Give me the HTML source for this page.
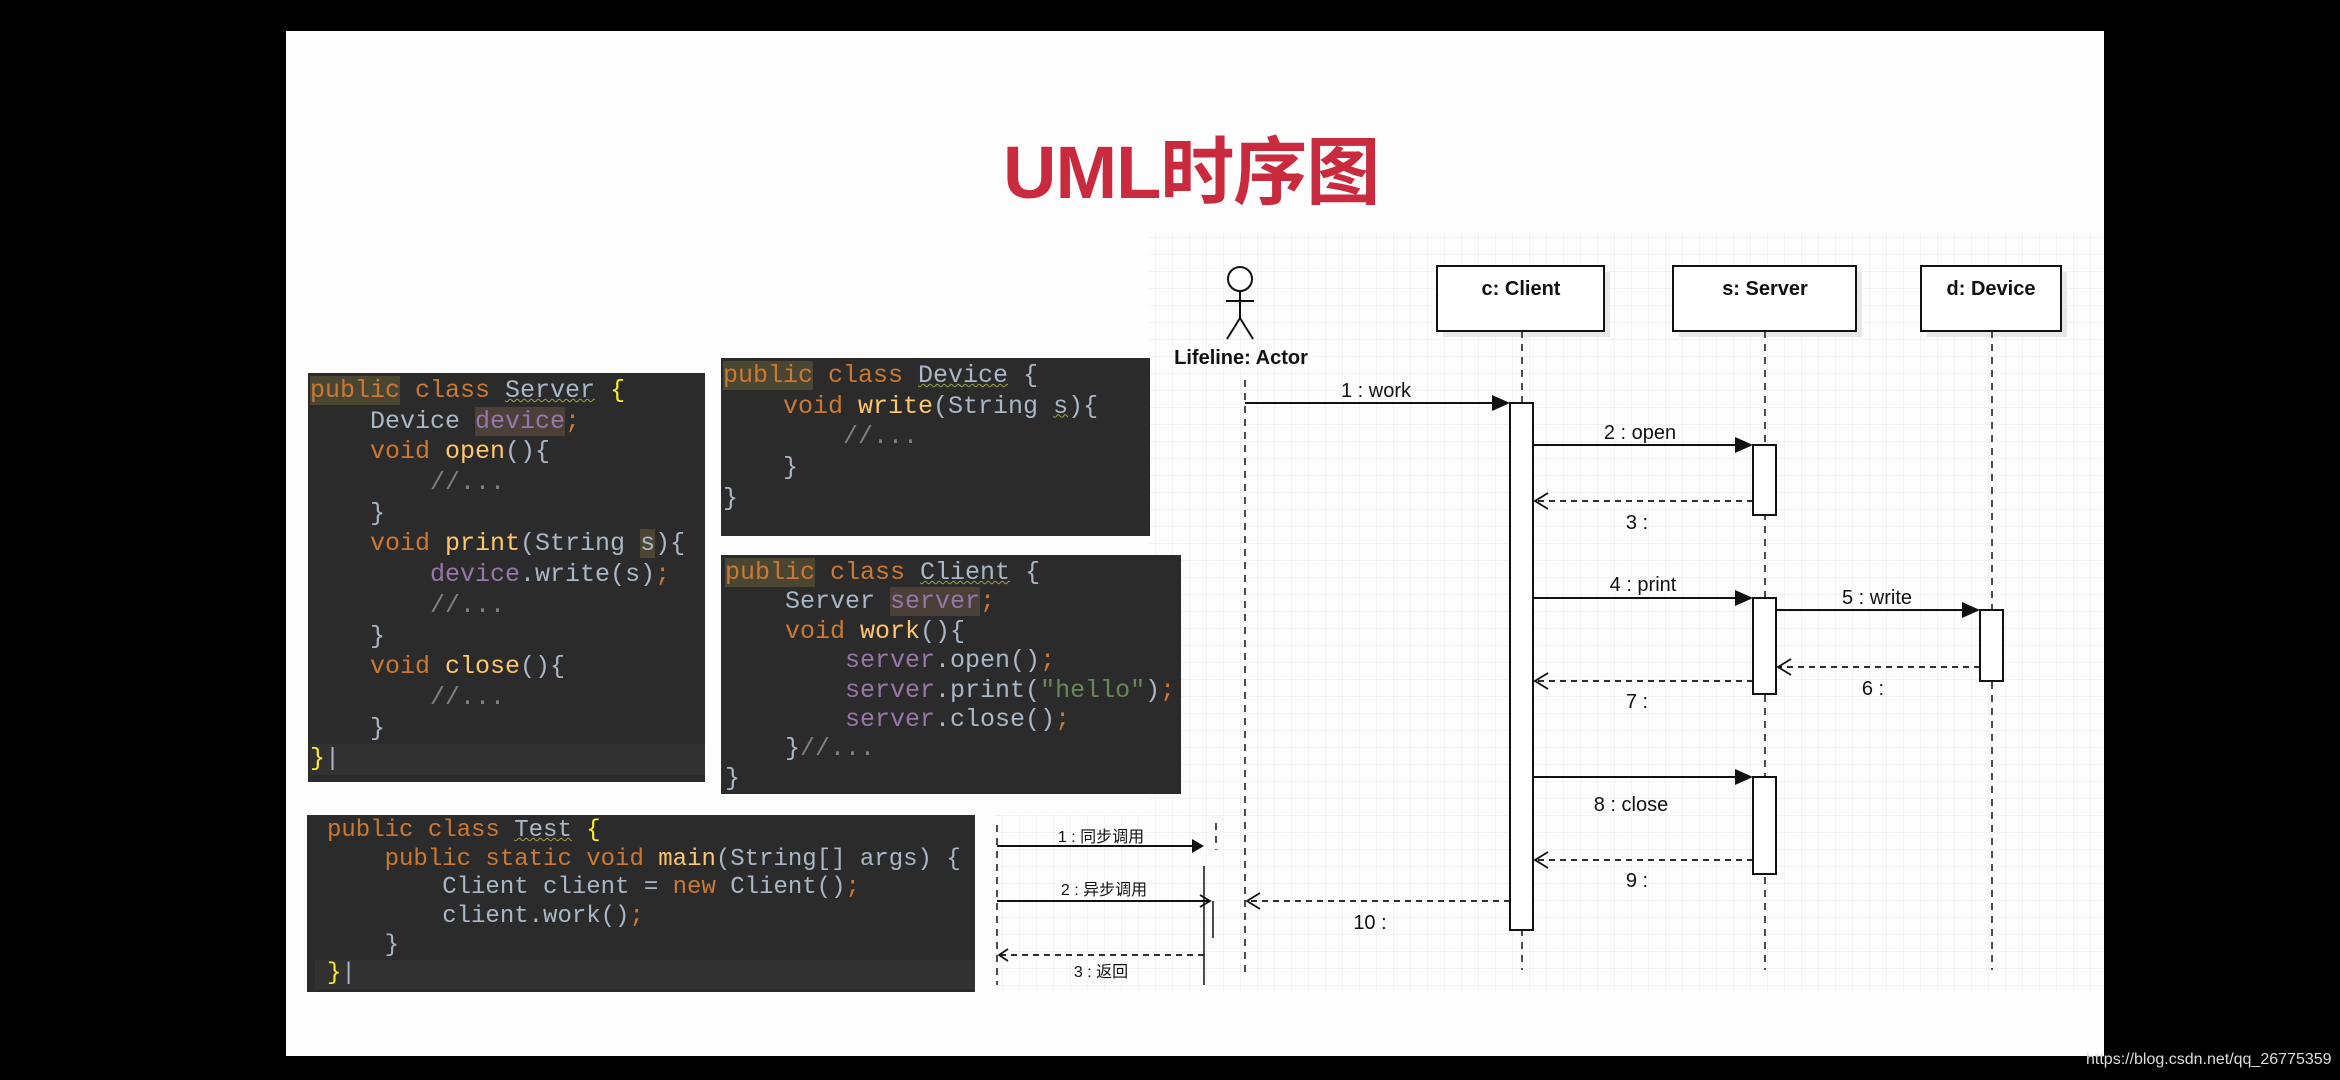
<!DOCTYPE html>
<html><head><meta charset="utf-8">
<style>
html,body{margin:0;padding:0;background:#000;}
body{width:2340px;height:1080px;position:relative;overflow:hidden;}
#slide{position:absolute;left:286px;top:31px;width:1818px;height:1025px;background:#fdfdfd;}
.code{position:absolute;background:#2b2b2b;box-sizing:border-box;margin:0;overflow:hidden;
 font-family:"Liberation Mono","DejaVu Sans Mono",monospace;font-size:25px;color:#a9b7c6;white-space:normal;}
.code div{height:30.7px;line-height:30.7px;white-space:pre;}
.cl div{height:29.4px;line-height:29.4px;}
.ts div{height:28.7px;line-height:28.7px;}
.k{color:#cc7832}.m{color:#ffc66d}.f{color:#9876aa}.c{color:#808080}.s{color:#6a8759}.y{color:#ffef28}
.hl{background:#4a4632}.hf{background:#4a4038}
.u{text-decoration:underline wavy #a0a040;text-decoration-thickness:1px;}
#title{position:absolute;left:1003px;top:128px;font-family:"Liberation Sans","Noto Sans CJK SC",sans-serif;font-weight:bold;font-size:74px;color:#c92a3e;line-height:90px;letter-spacing:-1px;}
#wm{position:absolute;left:2086px;top:1051px;font-family:"Liberation Sans",sans-serif;font-size:16px;color:#ddd;white-space:nowrap;}
</style></head><body>
<div id="slide"></div>
<div id="title">UML时序图</div>

<svg style="position:absolute;left:0;top:0" width="2340" height="1080" xmlns="http://www.w3.org/2000/svg">
<defs>
<pattern id="g" width="17" height="17" patternUnits="userSpaceOnUse">
<path d="M17 0V17H0" fill="none" stroke="#ececec" stroke-width="1"/></pattern>
</defs>
<rect x="1149" y="231" width="955" height="760" fill="url(#g)"/>
<rect x="995" y="815" width="225" height="175" fill="url(#g)"/>
<g font-family="Liberation Sans, sans-serif" fill="#111">
<circle cx="1240" cy="279" r="12" fill="#fff" stroke="#111" stroke-width="2"/>
<path d="M1240 291V318M1226 301H1254M1240 318L1227 339M1240 318L1253 339" stroke="#111" stroke-width="2" fill="none"/>
<text x="1241" y="364" font-size="20" font-weight="bold" text-anchor="middle">Lifeline: Actor</text>
<rect x="1443" y="272" width="167" height="65" fill="#e8e8e8"/>
<rect x="1679" y="272" width="183" height="65" fill="#e8e8e8"/>
<rect x="1927" y="272" width="140" height="65" fill="#e8e8e8"/>
<rect x="1437" y="266" width="167" height="65" fill="#fff" stroke="#111" stroke-width="2"/>
<rect x="1673" y="266" width="183" height="65" fill="#fff" stroke="#111" stroke-width="2"/>
<rect x="1921" y="266" width="140" height="65" fill="#fff" stroke="#111" stroke-width="2"/>
<text x="1521" y="295" font-size="20" font-weight="bold" text-anchor="middle">c: Client</text>
<text x="1765" y="295" font-size="20" font-weight="bold" text-anchor="middle">s: Server</text>
<text x="1991" y="295" font-size="20" font-weight="bold" text-anchor="middle">d: Device</text>
<g stroke="#111" stroke-width="1.5" stroke-dasharray="7,6" fill="none">
<path d="M1245 380V972M1522 331V970M1765 331V970M1992 331V970"/>
<path d="M997 825V985M1216 823V850"/>
</g>
<g fill="#fff" stroke="#111" stroke-width="2">
<rect x="1510" y="403" width="23" height="527"/>
<rect x="1753" y="445" width="23" height="70"/>
<rect x="1753" y="598" width="23" height="96"/>
<rect x="1753" y="777" width="23" height="97"/>
<rect x="1980" y="610" width="23" height="71"/>
</g>
<g stroke="#111" stroke-width="2">
<path d="M1245 403H1495M1533 445H1738M1533 598H1738M1776 610H1965M1533 777H1738M997 846H1194M997 901H1210"/>
</g>
<g fill="#111">
<path d="M1510 403L1492 395V411Z"/><path d="M1753 445L1735 437V453Z"/>
<path d="M1753 598L1735 590V606Z"/><path d="M1980 610L1962 602V618Z"/>
<path d="M1753 777L1735 769V785Z"/><path d="M1204 846L1192 839V853Z"/>
</g>
<g stroke="#111" stroke-width="1.8" stroke-dasharray="6,5" fill="none">
<path d="M1753 501H1535M1980 667H1778M1753 681H1535M1753 860H1535M1510 901H1247M1204 955H999"/>
</g>
<g stroke="#111" stroke-width="1.8" fill="none">
<path d="M1548 493L1535 501L1548 509M1791 659L1778 667L1791 675M1548 673L1535 681L1548 689M1548 852L1535 860L1548 868M1260 893L1247 901L1260 909M1008 949L999 955L1008 961M1200 895L1210 901L1200 907"/>
<path d="M1204 866V985M1213 901V938" stroke-width="1.5"/>
</g>
<g font-size="20" text-anchor="middle">
<text x="1376" y="397">1 : work</text>
<text x="1640" y="439">2 : open</text>
<text x="1637" y="529">3 :</text>
<text x="1643" y="591">4 : print</text>
<text x="1877" y="604">5 : write</text>
<text x="1873" y="695">6 :</text>
<text x="1637" y="708">7 :</text>
<text x="1631" y="811">8 : close</text>
<text x="1637" y="887">9 :</text>
<text x="1370" y="929">10 :</text>
</g>
<g font-size="16" text-anchor="middle" font-family="Liberation Sans, Noto Sans CJK SC, sans-serif">
<text x="1101" y="842">1 : 同步调用</text>
<text x="1104" y="895">2 : 异步调用</text>
<text x="1101" y="977">3 : 返回</text>
</g>
</g>
</svg>

<div class="code" style="left:308px;top:373px;width:397px;height:409px;padding:3px 0 0 2px;"><div><span class="k hl">public</span><span class="k"> class </span><span class="u">Server</span> <span class="y">{</span></div><div>    Device <span class="f hf">device</span><span class="k">;</span></div><div>    <span class="k">void </span><span class="m">open</span>(){</div><div>        <span class="c">//...</span></div><div>    }</div><div>    <span class="k">void </span><span class="m">print</span>(String <span class="hl">s</span>){</div><div>        <span class="f">device</span>.write(s)<span class="k">;</span></div><div>        <span class="c">//...</span></div><div>    }</div><div>    <span class="k">void </span><span class="m">close</span>(){</div><div>        <span class="c">//...</span></div><div>    }</div><div style="background:#323232"><span class="y">}</span>|</div></div>

<div class="code" style="left:721px;top:358px;width:429px;height:178px;padding:3px 0 0 2px;"><div><span class="k hl">public</span><span class="k"> class </span><span class="u">Device</span> {</div><div>    <span class="k">void </span><span class="m">write</span>(String <span class="u">s</span>){</div><div>        <span class="c">//...</span></div><div>    }</div><div>}</div></div>

<div class="code cl" style="left:721px;top:555px;width:460px;height:239px;padding:3px 0 0 4px;"><div><span class="k hl">public</span><span class="k"> class </span><span class="u">Client</span> {</div><div>    Server <span class="f hf">server</span><span class="k">;</span></div><div>    <span class="k">void </span><span class="m">work</span>(){</div><div>        <span class="f">server</span>.open()<span class="k">;</span></div><div>        <span class="f">server</span>.print(<span class="s">"hello"</span>)<span class="k">;</span></div><div>        <span class="f">server</span>.close()<span class="k">;</span></div><div>    }<span class="c">//...</span></div><div>}</div></div>

<div class="code ts" style="left:307px;top:815px;width:668px;height:177px;padding:2px 0 0 20px;font-size:24px;"><div><span class="k">public class </span><span class="u">Test</span> <span class="y">{</span></div><div>    <span class="k">public static void </span><span class="m">main</span>(String[] args) {</div><div>        Client client = <span class="k">new </span>Client()<span class="k">;</span></div><div>        client.work()<span class="k">;</span></div><div>    }</div><div style="background:#323232;margin-left:-12px;padding-left:12px"><span class="y">}</span>|</div></div>

<div id="wm">https://blog.csdn.net/qq_26775359</div>
</body></html>
